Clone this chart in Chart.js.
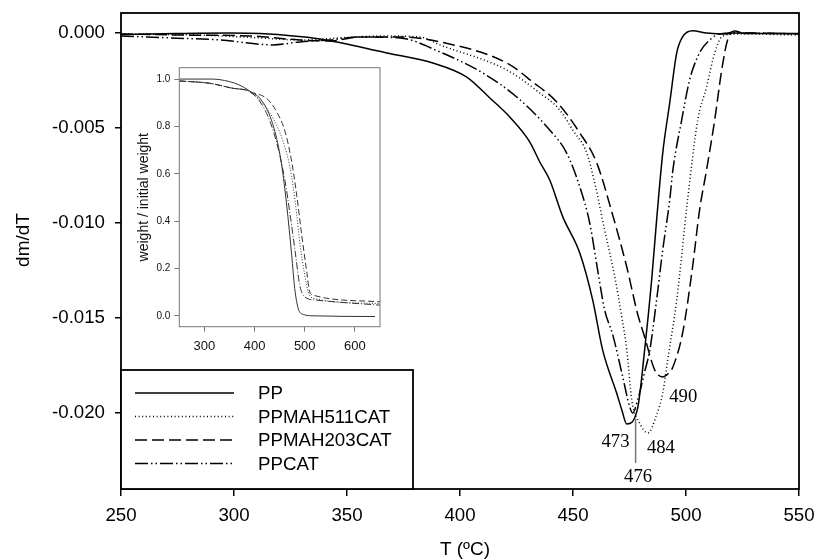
<!DOCTYPE html>
<html>
<head>
<meta charset="utf-8">
<script src="https://cdn.jsdelivr.net/npm/chart.js@4"></script>
<style>
  html, body { margin: 0; padding: 0; background: #fff; }
  #wrap { position: relative; width: 816px; height: 560px; }
  #main { position: absolute; left: 0; top: 0; }
  #inset { position: absolute; left: 120px; top: 60px; }
</style>
</head>
<body>
<div id="wrap">
  <canvas id="main" width="816" height="560"></canvas>
  <canvas id="inset" width="270" height="300"></canvas>
</div>
<script>
// series names (legend order)
const seriesNames = ["PP", "PPMAH511CAT", "PPMAH203CAT", "PPCAT"];

// main plot: dm/dT vs T
const ppT = [250, 273.9, 298.2, 311.5, 338, 367.6, 388, 403, 413.2, 422, 430.9, 435.3, 439.7, 445.5, 453, 458.7, 463.1, 469.3, 471.6, 473.8, 478.6, 481.7, 484.8, 487, 489.7, 492.8, 495.9, 498.5, 502.9, 509.1, 517.9, 521.5, 526, 550];
const ppV = [-0.00008, -0.00003, 0, -0.00003, -0.00032, -0.00105, -0.00158, -0.00232, -0.00342, -0.00442, -0.00574, -0.00679, -0.00774, -0.00968, -0.01158, -0.01405, -0.01668, -0.01895, -0.01984, -0.02058, -0.01974, -0.01668, -0.0130, -0.00984, -0.00632, -0.00368, -0.00105, -0.00021, 0.00011, 0, -0.00005, 0.0001, -0.00003, -0.00003];

const mah511T = [250, 284.9, 311.5, 329.2, 346.8, 364.5, 382.2, 391.1, 420.7, 435.3, 444.1, 449.9, 456.1, 459.6, 464, 468.5, 471.6, 473.8, 476, 479.5, 483.1, 487, 489.7, 491.9, 495.9, 500.7, 505.2, 509.1, 512.7, 515.8, 521.5, 550];
const mah511V = [-0.00005, -0.00011, -0.00026, -0.00037, -0.00026, -0.00016, -0.00021, -0.00063, -0.00195, -0.00316, -0.00405, -0.00511, -0.00632, -0.00789, -0.01037, -0.01284, -0.01495, -0.01668, -0.01932, -0.02053, -0.02105, -0.0201, -0.01895, -0.01721, -0.01405, -0.00879, -0.00458, -0.00284, -0.00105, -0.00021, -0.00005, -0.00011];

const mah203T = [250, 276.1, 307, 329.2, 342.4, 355.7, 373.4, 391.1, 420.7, 432.2, 442.8, 453, 460.5, 467.6, 473.8, 478.6, 481.7, 486.2, 489.7, 492.8, 494.2, 498.5, 502.9, 506, 509.1, 512.7, 515.8, 518.4, 520.6, 550];
const mah203V = [-0.00005, -0.00011, -0.00016, -0.00037, -0.00042, -0.00021, -0.00021, -0.00047, -0.00158, -0.00258, -0.00363, -0.00526, -0.00684, -0.00960, -0.01232, -0.01479, -0.016, -0.01774, -0.0181, -0.01784, -0.01758, -0.01579, -0.01232, -0.00932, -0.00721, -0.00458, -0.00195, -0.00037, 0, -0.00005];

const ppcatT = [250, 271.7, 293.8, 317.2, 329.2, 342.4, 355.7, 373.4, 391.1, 410.1, 425.1, 439.7, 447.2, 453, 457.4, 460.9, 464, 467.6, 472, 475.1, 476.4, 478.6, 481.7, 484, 487, 489.7, 492.8, 494.2, 498.1, 501.6, 506, 510.5, 514.9, 523.7, 550];
const ppcatV = [-0.00016, -0.00026, -0.00037, -0.00063, -0.00047, -0.00037, -0.00021, -0.00026, -0.001, -0.00211, -0.00337, -0.00511, -0.00632, -0.0081, -0.01, -0.01247, -0.01458, -0.01589, -0.0181, -0.01968, -0.02, -0.01932, -0.01784, -0.01668, -0.01405, -0.01142, -0.00879, -0.00721, -0.00458, -0.00247, -0.00105, -0.00037, -0.00005, 0, -0.00005];

const xTicks = [250, 300, 350, 400, 450, 500, 550];
const yTicks = [0, -0.005, -0.01, -0.015, -0.02];
const xTitle = "T (ºC)";
const yTitle = "dm/dT";

// peak labels: text, T, dm/dT where the label sits
const peakLabels = ["473", "476", "484", "490"];
const peakLabelT = [468.8, 478.8, 488.9, 498.8];
const peakLabelV = [-0.02151, -0.02335, -0.02186, -0.01914];
// marker line under the 476 peak
const markerT = 477.7;
const markerV = [-0.02031, -0.02263];

// inset: weight / initial weight vs T
const inPpT = [250, 318, 340, 360, 378, 391, 411, 431, 444, 454, 464, 474, 480, 487, 497, 517, 640];
const inPpW = [1.0, 1.0, 0.994, 0.983, 0.966, 0.948, 0.918, 0.842, 0.749, 0.637, 0.468, 0.256, 0.116, 0.031, 0.006, 0.0, -0.003];
const in511T = [250, 311, 357, 384, 391, 411, 437, 457, 471, 481, 490, 500, 507, 517, 650];
const in511W = [0.992, 0.982, 0.961, 0.953, 0.946, 0.91, 0.834, 0.735, 0.623, 0.482, 0.313, 0.172, 0.101, 0.074, 0.052];
const in203T = [250, 311, 357, 384, 391, 424, 444, 461, 474, 484, 494, 504, 510, 517, 650];
const in203W = [0.992, 0.982, 0.961, 0.953, 0.946, 0.918, 0.862, 0.777, 0.651, 0.51, 0.341, 0.186, 0.101, 0.087, 0.059];
const inCatT = [250, 311, 357, 384, 391, 411, 431, 447, 461, 471, 481, 490, 500, 524, 650];
const inCatW = [0.992, 0.982, 0.961, 0.953, 0.946, 0.904, 0.82, 0.707, 0.566, 0.425, 0.27, 0.13, 0.08, 0.066, 0.045];
const inXTicks = [300, 400, 500, 600];
const inYTicks = [0, 0.2, 0.4, 0.6, 0.8, 1.0];
const inYTitle = "weight / initial weight";

const SANS = '"Liberation Sans", Arial, sans-serif';
const SERIF = '"Liberation Serif", "Times New Roman", serif';

function toXY(xs, ys) {
  return xs.map((x, i) => ({ x: x, y: ys[i] }));
}

// pin the axis box and drop the label overhang padding so the plot area stays where we put it
function fixSize(prop, size) {
  return s => {
    s[prop] = size;
    s.paddingTop = 0; s.paddingBottom = 0; s.paddingLeft = 0; s.paddingRight = 0;
  };
}

const mainDashes = [[], [1, 2.6], [12, 5], [13, 3, 1.5, 3, 1.5, 3]];
const insetDashes = [[], [1, 1.8], [6, 3], [7, 2, 1, 2]];

// frame around the plot area
const frame = {
  id: "frame",
  afterDatasetsDraw(chart, args, opts) {
    const { ctx, chartArea: a } = chart;
    ctx.save();
    ctx.strokeStyle = opts.color;
    ctx.lineWidth = opts.width;
    ctx.strokeRect(a.left, a.top, a.right - a.left, a.bottom - a.top);
    ctx.restore();
  }
};

// boxed legend in the lower left corner of the plot
const boxLegend = {
  id: "boxLegend",
  afterDraw(chart) {
    const { ctx, chartArea: a } = chart;
    const left = a.left, right = a.left + 292, top = a.bottom - 119, bottom = a.bottom;
    ctx.save();
    ctx.fillStyle = "#fff";
    ctx.fillRect(left, top, right - left, bottom - top);
    ctx.strokeStyle = "#000";
    ctx.lineWidth = 1.8;
    ctx.strokeRect(left, top, right - left, bottom - top);
    chart.data.datasets.forEach((ds, i) => {
      const y = top + 23 + i * 23.5;
      ctx.beginPath();
      ctx.setLineDash(ds.borderDash);
      ctx.lineWidth = ds.borderWidth;
      ctx.moveTo(left + 14, y);
      ctx.lineTo(left + 113, y);
      ctx.stroke();
      ctx.setLineDash([]);
      ctx.fillStyle = "#000";
      ctx.font = "18.7px " + SANS;
      ctx.textAlign = "left";
      ctx.textBaseline = "middle";
      ctx.fillText(ds.label, left + 137, y + 1);
    });
    ctx.restore();
  }
};

// peak temperature labels and axis titles
const extras = {
  id: "extras",
  afterDraw(chart) {
    const { ctx, chartArea: a, scales: { x, y } } = chart;
    ctx.save();
    ctx.strokeStyle = "#777";
    ctx.lineWidth = 1.5;
    ctx.beginPath();
    ctx.moveTo(x.getPixelForValue(markerT), y.getPixelForValue(markerV[0]));
    ctx.lineTo(x.getPixelForValue(markerT), y.getPixelForValue(markerV[1]));
    ctx.stroke();
    ctx.fillStyle = "#000";
    ctx.font = "18.7px " + SERIF;
    ctx.textAlign = "center";
    ctx.textBaseline = "middle";
    peakLabels.forEach((t, i) => {
      ctx.fillText(t, x.getPixelForValue(peakLabelT[i]), y.getPixelForValue(peakLabelV[i]));
    });
    ctx.font = "19px " + SANS;
    ctx.fillText(xTitle, (a.left + a.right) / 2 + 5, a.bottom + 61);
    ctx.translate(24, (a.top + a.bottom) / 2 - 11);
    ctx.rotate(-Math.PI / 2);
    ctx.fillText(yTitle, 0, 0);
    ctx.restore();
  }
};

const mainSeries = [toXY(ppT, ppV), toXY(mah511T, mah511V), toXY(mah203T, mah203V), toXY(ppcatT, ppcatV)];

new Chart(document.getElementById("main").getContext("2d"), {
  type: "line",
  data: {
    datasets: mainSeries.map((d, i) => ({
      label: seriesNames[i],
      data: d,
      borderColor: "#000",
      borderWidth: 1.5,
      borderDash: mainDashes[i],
      pointRadius: 0,
      fill: false,
      cubicInterpolationMode: "monotone"
    }))
  },
  options: {
    responsive: false,
    animation: false,
    layout: { padding: { top: 13, right: 17, left: 0, bottom: 0 } },
    plugins: {
      legend: { display: false },
      tooltip: { enabled: false },
      frame: { color: "#000", width: 1.8 }
    },
    scales: {
      x: {
        type: "linear",
        min: 250,
        max: 550,
        afterBuildTicks: s => { s.ticks = xTicks.map(v => ({ value: v })); },
        afterFit: fixSize("height", 71),
        ticks: { color: "#000", font: { family: SANS, size: 18.7 }, padding: 9, maxRotation: 0, autoSkip: false },
        grid: { drawOnChartArea: false, drawTicks: true, tickLength: 7, color: "#000", lineWidth: 1.5 },
        border: { display: false }
      },
      y: {
        type: "linear",
        min: -0.024,
        max: 0.00105,
        afterBuildTicks: s => { s.ticks = yTicks.map(v => ({ value: v })); },
        afterFit: fixSize("width", 121),
        ticks: { color: "#000", font: { family: SANS, size: 18.7 }, padding: 10, callback: v => v.toFixed(3) },
        grid: { drawOnChartArea: false, drawTicks: true, tickLength: 6, color: "#000", lineWidth: 1.5 },
        border: { display: false }
      }
    }
  },
  plugins: [frame, boxLegend, extras]
});

const insetSeries = [toXY(inPpT, inPpW), toXY(in511T, in511W), toXY(in203T, in203W), toXY(inCatT, inCatW)];

new Chart(document.getElementById("inset").getContext("2d"), {
  type: "line",
  data: {
    datasets: insetSeries.map((d, i) => ({
      label: seriesNames[i],
      data: d,
      borderColor: "#333",
      borderWidth: 1,
      borderDash: insetDashes[i],
      pointRadius: 0,
      fill: false,
      cubicInterpolationMode: "monotone"
    }))
  },
  options: {
    responsive: false,
    animation: false,
    layout: { padding: { top: 7.7, right: 10, left: 0, bottom: 0 } },
    plugins: {
      legend: { display: false },
      tooltip: { enabled: false },
      frame: { color: "#777", width: 1 }
    },
    scales: {
      x: {
        type: "linear",
        min: 250,
        max: 650,
        afterBuildTicks: s => { s.ticks = inXTicks.map(v => ({ value: v })); },
        afterFit: fixSize("height", 33.3),
        ticks: { color: "#111", font: { family: SANS, size: 13 }, padding: 7, maxRotation: 0, autoSkip: false },
        grid: { drawOnChartArea: false, drawTicks: true, tickLength: 5, color: "#777", lineWidth: 1 },
        border: { display: false }
      },
      y: {
        type: "linear",
        min: -0.046,
        max: 1.048,
        afterBuildTicks: s => { s.ticks = inYTicks.map(v => ({ value: v })); },
        afterFit: fixSize("width", 59.3),
        ticks: { color: "#111", font: { family: SANS, size: 10 }, padding: 4, callback: v => v.toFixed(1) },
        grid: { drawOnChartArea: false, drawTicks: true, tickLength: 5, color: "#777", lineWidth: 1 },
        border: { display: false },
        title: { display: true, text: inYTitle, color: "#111", font: { family: SANS, size: 14 }, padding: { top: 16, bottom: 0 } }
      }
    }
  },
  plugins: [frame]
});
</script>
</body>
</html>
